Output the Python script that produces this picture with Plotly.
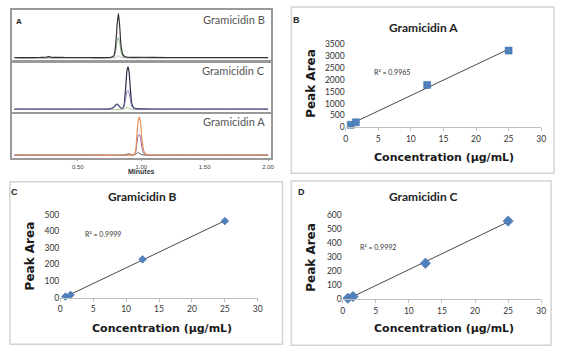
import numpy as np
import plotly.graph_objects as go

W, H = 563, 355
def fx(p): return p / W
def fy(p): return 1 - p / H

# ---------------- Panel A: chromatograms (time in minutes, relative intensity) ----
tB = [0.00, 0.10, 0.20, 0.25, 0.27, 0.29, 0.40, 0.60, 0.76, 0.785, 0.800, 0.810, 0.820,
      0.830, 0.840, 0.855, 0.875, 0.90, 1.00, 1.20, 1.50, 1.80, 2.00]
gB_dark = [1.5, 1.0, 1.5, 2.0, 3.5, 2.0, 1.5, 1.5, 2.0, 6.0, 35.0, 75.0, 100.0,
           72.0, 30.0, 8.0, 3.0, 2.0, 2.0, 1.5, 1.5, 1.5, 1.5]
gB_green = [0.5, 0.5, 0.5, 0.5, 1.0, 0.5, 0.5, 0.5, 0.8, 3.0, 18.0, 38.0, 46.0,
            36.0, 15.0, 4.0, 1.5, 1.0, 1.0, 0.8, 0.8, 0.8, 0.8]
gB_grey = [0, 0, 0, 0, 0, 0, 0, 0, 0, 1, 2, 4, 5, 4, 2, 1, 0.5, 0, 0, 0, 0, 0, 0]

tC = [0.00, 0.20, 0.40, 0.60, 0.75, 0.78, 0.795, 0.81, 0.825, 0.84, 0.855, 0.865, 0.878,
      0.888, 0.896, 0.904, 0.914, 0.925, 0.94, 0.96, 1.00, 1.20, 1.50, 2.00]
gC_dark = [1.5, 1.5, 1.5, 1.5, 2, 5, 10, 13, 9, 4, 4, 12, 55, 92, 100, 88, 50, 15, 5, 2.5,
           2, 1.5, 1.5, 1.5]
gC_blue = [1, 1, 1, 1, 1.5, 4, 9, 12, 8, 3, 3, 8, 28, 42, 45, 40, 24, 8, 3, 1.5, 1, 1, 1, 1]
gC_green = [0.5, 0.5, 0.5, 0.5, 0.5, 0.5, 0.5, 0.5, 0.5, 0.5, 1, 2, 4, 5, 4, 3, 2, 1, 0.5,
            0.5, 0.5, 0.5, 0.5, 0.5]

tA = [0.00, 0.30, 0.60, 0.85, 0.88, 0.90, 0.92, 0.94, 0.955, 0.965, 0.975, 0.985, 0.995,
      1.005, 1.02, 1.04, 1.07, 1.20, 1.50, 2.00]
gA_orange = [1, 1, 1, 1, 1.5, 2, 1.5, 2, 12, 50, 88, 100, 85, 45, 12, 3, 1.5, 1, 1, 1]
gA_purple = [1, 1, 1, 1, 1.5, 2, 1.5, 2, 8, 30, 52, 55, 45, 22, 6, 2, 1, 1, 1, 1]
gA_dark = [1.5, 1.5, 1.5, 1.5, 3, 5, 3, 2, 3, 6, 8, 6, 4, 2.5, 2, 1.5, 1.5, 1.5, 1.5, 1.5]

min_ticks = [0.5, 1.0, 1.5, 2.0]
min_labels = ["0.50", "1.00", "1.50", "2.00"]

# ---------------- Calibration curves ----------------
concA = [0.78, 1.56, 12.5, 25]
areaA = [110, 216, 1780, 3220]
concB = [0.78, 1.56, 12.5, 25]
areaB = [6, 16, 231, 463]
concC = [0.78, 1.56, 12.5, 25]
areaC = [9, 21, 257, 556]
x_ticks = [0, 5, 10, 15, 20, 25, 30]

fig = go.Figure()

def chrom(t, y, color, ax, width=1.0):
    fig.add_trace(go.Scatter(x=t, y=y, mode="lines", xaxis="x" + ax, yaxis="y" + ax,
                             line=dict(color=color, width=width, shape="spline", smoothing=0.6),
                             showlegend=False, hoverinfo="skip"))

chrom(tB, gB_grey, "#b8b8b8", "")
chrom(tB, gB_green, "#8fb88f", "")
chrom(tB, gB_dark, "#333333", "", 1.2)

chrom(tC, gC_green, "#a8c080", "2")
chrom(tC, gC_dark, "#2a2a44", "2", 1.2)
chrom(tC, gC_blue, "#7a7ab8", "2")

chrom(tA, gA_dark, "#555555", "3")
chrom(tA, gA_purple, "#8a5aa8", "3")
chrom(tA, gA_orange, "#e8925a", "3", 1.2)

def fitline(x, y, ax):
    k, b = np.polyfit(x, y, 1)
    xs = np.array([min(x), max(x)])
    fig.add_trace(go.Scatter(x=xs, y=k * xs + b, mode="lines", xaxis="x" + ax, yaxis="y" + ax,
                             line=dict(color="#4a4a4a", width=1), showlegend=False,
                             hoverinfo="skip", cliponaxis=False))

blue = "#4f81bd"
fitline(concA, areaA, "4")
fig.add_trace(go.Scatter(x=concA, y=areaA, mode="markers", xaxis="x4", yaxis="y4",
                         marker=dict(symbol="square", size=7, color=blue,
                                     line=dict(color="#3b6a9e", width=0.5)),
                         showlegend=False, cliponaxis=False))
fitline(concB, areaB, "5")
fig.add_trace(go.Scatter(x=concB, y=areaB, mode="markers", xaxis="x5", yaxis="y5",
                         marker=dict(symbol="diamond", size=6, color=blue,
                                     line=dict(color="#3b6a9e", width=0.5)),
                         showlegend=False, cliponaxis=False))
fitline(concC, areaC, "6")
fig.add_trace(go.Scatter(x=concC, y=areaC, mode="markers", xaxis="x6", yaxis="y6",
                         marker=dict(symbol="diamond", size=8, color=blue,
                                     line=dict(color="#3b6a9e", width=0.5)),
                         showlegend=False, cliponaxis=False))

layout = dict(width=W, height=H, margin=dict(l=0, r=0, t=0, b=0),
              paper_bgcolor="white", plot_bgcolor="rgba(0,0,0,0)", showlegend=False)

# chromatogram boxes
boxes = [("", 5, 57), ("2", 60, 110), ("3", 112, 157)]
for i, (ax, top, bot) in enumerate(boxes):
    last = (i == 2)
    layout["xaxis" + ax] = dict(domain=[fx(10), fx(272)], range=[-0.02, 2.02],
                                anchor="y" + ax, showgrid=False, zeroline=False,
                                showline=True, mirror=True, linecolor="#999999", linewidth=1.5,
                                tickvals=min_ticks if last else [], ticktext=min_labels,
                                ticks="outside" if last else "", ticklen=2, tickcolor="#999",
                                tickfont=dict(size=6, color="#444", family="Liberation Sans"),
                                showticklabels=last)
    layout["yaxis" + ax] = dict(domain=[fy(bot), fy(top)], range=[-5, 108],
                                anchor="x" + ax, showgrid=False, zeroline=False,
                                showline=True, mirror=True, linecolor="#999999", linewidth=1.5,
                                showticklabels=False, ticks="")

def cal_axes(ax, x0, x1, y0px, ytop_px, ymax, dtick):
    layout["xaxis" + ax] = dict(domain=[fx(x0), fx(x1)], range=[0, 30], anchor="y" + ax,
                                tickvals=x_ticks, ticks="outside", ticklen=3, tickcolor="#c0c0c0",
                                showline=True, linecolor="#c0c0c0", linewidth=1,
                                showgrid=False, zeroline=False,
                                tickfont=dict(size=8.5, color="#333", family="Lato"))
    layout["yaxis" + ax] = dict(domain=[fy(y0px), fy(ytop_px)], range=[0, ymax],
                                anchor="x" + ax, dtick=dtick, showline=False, showgrid=False,
                                zeroline=False, ticks="",
                                tickfont=dict(size=8.5, color="#333", family="Lato"))

cal_axes("4", 348, 546, 126, 40, 3500, 500)
cal_axes("5", 59, 259, 301, 216, 500, 100)
cal_axes("6", 345, 546, 303, 216, 600, 100)

fig.update_layout(**layout)

ann = []
def text(x, y, s, size, bold=False, family="Lato", color="#222", xanchor="center", angle=0):
    ann.append(dict(x=fx(x), y=fy(y), xref="paper", yref="paper", text=("<b>%s</b>" % s) if bold else s,
                    showarrow=False, xanchor=xanchor, yanchor="middle", textangle=angle,
                    font=dict(size=size, family=family, color=color)))

# panel A texts
text(17, 17, "A", 8, True, "Liberation Sans")
text(268, 15, "Gramicidin B", 11, False, "Lato", "#555", "right")
text(268, 67, "Gramicidin C", 11, False, "Lato", "#555", "right")
text(268, 120, "Gramicidin A", 11, False, "Lato", "#555", "right")
text(141, 171, "Minutes", 7, True, "Liberation Sans", "#333")

# panel letters
text(298, 15, "B", 9, True, "Liberation Sans")
text(13, 192, "C", 9, True, "Liberation Sans")
text(303, 192, "D", 9, True, "Liberation Sans")

# titles
text(427, 23, "Gramicidin A", 12, True)
text(142, 197, "Gramicidin B", 12, True)
text(427, 197, "Gramicidin C", 12, True)

# axis titles
for (xt, yt, xy, yy) in [(448, 157, 313, 81), (162, 333, 28, 258), (448, 333, 313, 260)]:
    text(xt, yt, "Concentration (µg/mL)", 11, True, "DejaVu Sans", "#1a1a1a")
    text(xy, yy, "Peak Area", 12, True, "DejaVu Sans", "#1a1a1a", angle=-90)

# R² labels
text(395, 69, "R² = 0.9965", 7, False, "Lato", "#333")
text(102, 236, "R² = 0.9999", 7, False, "Lato", "#333")
text(381, 249, "R² = 0.9992", 7, False, "Lato", "#333")

fig.update_layout(annotations=ann)

frames = [(293, 2, 559, 173), (8, 182, 284, 349), (293, 181, 556, 350)]
shapes = []
for (x0, y0, x1, y1) in frames:
    shapes.append(dict(type="rect", xref="paper", yref="paper", x0=fx(x0), x1=fx(x1),
                       y0=fy(y1), y1=fy(y0), line=dict(color="#d4d4d4", width=1.5)))
fig.update_layout(shapes=shapes)

fig.write_html("out.html", config={"displayModeBar": False},
               post_script="document.body.style.margin='0';")
